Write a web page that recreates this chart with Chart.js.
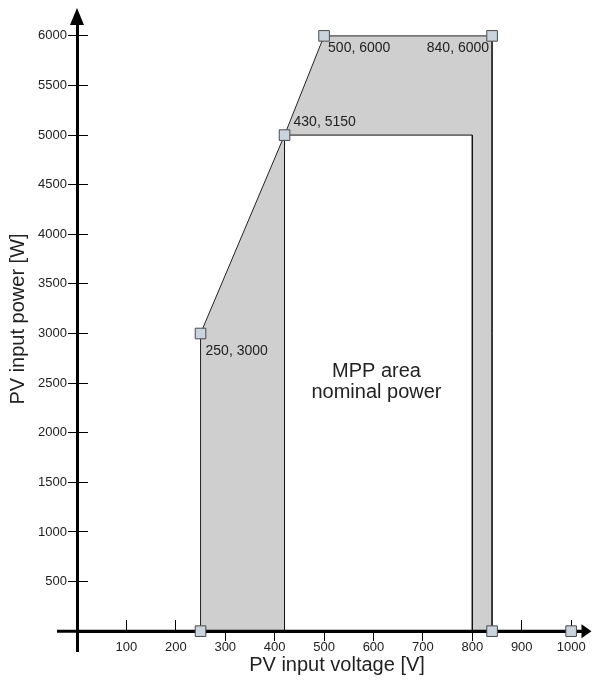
<!DOCTYPE html>
<html>
<head>
<meta charset="utf-8">
<script src="https://cdn.jsdelivr.net/npm/chart.js@4/dist/chart.umd.min.js"></script>
<style>
  html, body { margin: 0; padding: 0; background: #ffffff; }
  #wrap { position: relative; width: 592px; height: 680px; }
</style>
</head>
<body>
<div id="wrap"><canvas id="c" width="592" height="680"></canvas></div>
<script>
// ---- data ----
const xTickValues = [100, 200, 300, 400, 500, 600, 700, 800, 900, 1000];
const yTickValues = [500, 1000, 1500, 2000, 2500, 3000, 3500, 4000, 4500, 5000, 5500, 6000];
const xTicksBelow = [300, 400, 500, 600, 700, 800];

const outerAreaX = [250, 250, 420, 500, 840, 840];
const outerAreaY = [0, 3000, 5000, 6000, 6000, 0];
const innerAreaX = [420, 420, 800, 800];
const innerAreaY = [0, 5000, 5000, 0];
const markerX = [250, 250, 420, 500, 840, 840, 1000];
const markerY = [0, 3000, 5000, 6000, 6000, 0, 0];

const pointLabels = ['250, 3000', '430, 5150', '500, 6000', '840, 6000'];
const pointLabelX = [250, 420, 500, 840];
const pointLabelY = [3000, 5000, 6000, 6000];
const areaLabel = ['MPP area', 'nominal power'];
const areaLabelAt = { x: 606, y: 2560 };
const xTitle = 'PV input voltage [V]';
const yTitle = 'PV input power [W]';

const toXY = (xs, ys) => xs.map((x, i) => ({ x: x, y: ys[i] }));

// ---- styles ----
const FONT = '"Liberation Sans", Arial, Helvetica, sans-serif';
const TEXT = '#222222';
const labelOffsets = [[5, 18, 'left'], [9, -13, 'left'], [4, 12, 'left'], [-3, 12, 'right']];

const overlay = {
  id: 'overlay',
  afterDatasetDraw(chart, args) {
    if (args.index !== 1) return;
    const ctx = chart.ctx, xs = chart.scales.x, ys = chart.scales.y, a = chart.chartArea;
    const x0 = xs.getPixelForValue(0), y0 = ys.getPixelForValue(0);
    ctx.save();
    ctx.strokeStyle = '#000'; ctx.fillStyle = '#000'; ctx.lineWidth = 3;
    ctx.beginPath(); ctx.moveTo(x0 - 20, y0); ctx.lineTo(a.right, y0); ctx.stroke();
    ctx.beginPath(); ctx.moveTo(a.right + 8, y0); ctx.lineTo(a.right - 2, y0 - 7); ctx.lineTo(a.right - 2, y0 + 7); ctx.closePath(); ctx.fill();
    ctx.beginPath(); ctx.moveTo(x0, a.top - 13); ctx.lineTo(x0 - 7, a.top + 4); ctx.lineTo(x0 + 7, a.top + 4); ctx.closePath(); ctx.fill();
    ctx.restore();
  },
  afterDraw(chart) {
    const ctx = chart.ctx, xs = chart.scales.x, ys = chart.scales.y;
    ctx.save();
    ctx.fillStyle = TEXT;
    ctx.font = '14px ' + FONT;
    ctx.textBaseline = 'middle';
    pointLabels.forEach((t, i) => {
      const o = labelOffsets[i];
      ctx.textAlign = o[2];
      ctx.fillText(t, xs.getPixelForValue(pointLabelX[i]) + o[0], ys.getPixelForValue(pointLabelY[i]) + o[1]);
    });
    ctx.font = '20px ' + FONT;
    ctx.textAlign = 'center';
    ctx.textBaseline = 'alphabetic';
    const ax = xs.getPixelForValue(areaLabelAt.x), ay = ys.getPixelForValue(areaLabelAt.y);
    areaLabel.forEach((t, i) => ctx.fillText(t, ax, ay + i * 21));
    ctx.textBaseline = 'middle';
    ctx.fillText(xTitle, 337, 665);
    ctx.translate(18.5, 319);
    ctx.rotate(-Math.PI / 2);
    ctx.fillText(yTitle, 0, 0);
    ctx.restore();
  }
};

const setTicks = vals => s => { s.ticks = vals.map(v => ({ value: v })); };
const plain = v => String(v);

new Chart(document.getElementById('c'), {
  type: 'scatter',
  data: {
    datasets: [
      {
        label: 'points',
        data: toXY(markerX, markerY),
        showLine: false,
        pointStyle: 'rect',
        pointRadius: 7.5,
        pointHoverRadius: 7.5,
        pointBackgroundColor: '#c9d4df',
        pointBorderColor: '#4a4a4a',
        pointBorderWidth: 1
      },
      {
        label: 'nominal',
        data: toXY(innerAreaX, innerAreaY),
        showLine: true,
        tension: 0,
        fill: 'origin',
        backgroundColor: '#ffffff',
        borderColor: '#111111',
        borderWidth: 1,
        pointRadius: 0
      },
      {
        label: 'mpp',
        data: toXY(outerAreaX, outerAreaY),
        showLine: true,
        tension: 0,
        fill: 'origin',
        backgroundColor: '#cfcfcf',
        borderColor: '#222222',
        borderWidth: 1,
        pointRadius: 0
      }
    ]
  },
  options: {
    responsive: false,
    animation: false,
    events: [],
    layout: { padding: { left: 0, right: 8, top: 21, bottom: 29 } },
    plugins: { legend: { display: false }, tooltip: { enabled: false } },
    scales: {
      x: {
        type: 'linear', min: 0, max: 1025, position: { y: 0 },
        afterBuildTicks: setTicks(xTickValues),
        grid: {
          drawOnChartArea: false, drawTicks: true, tickLength: 8, lineWidth: 1,
          tickColor: c => (c.tick && xTicksBelow.includes(c.tick.value)) ? '#000' : 'rgba(0,0,0,0)'
        },
        border: { display: true, width: 3, color: '#000' },
        ticks: { padding: 0, color: TEXT, font: { family: FONT, size: 13 }, maxRotation: 0, autoSkip: false, callback: plain }
      },
      x2: {
        type: 'linear', min: 0, max: 1025, position: { y: 0 },
        afterBuildTicks: setTicks(xTickValues),
        grid: { drawOnChartArea: false, drawTicks: true, tickLength: -11, lineWidth: 1, tickColor: '#000' },
        border: { display: false },
        ticks: { display: false }
      },
      y: {
        type: 'linear', min: -200, max: 6150, position: 'left',
        afterBuildTicks: setTicks(yTickValues),
        afterFit: s => { s.width = 77; },
        grid: { drawOnChartArea: false, drawTicks: true, tickLength: 9, lineWidth: 1, tickColor: '#000' },
        border: { display: true, width: 3, color: '#000' },
        ticks: { padding: 1, color: TEXT, font: { family: FONT, size: 13 }, autoSkip: false, callback: plain }
      },
      y2: {
        type: 'linear', min: -200, max: 6150, position: { x: 0 },
        afterBuildTicks: setTicks(yTickValues),
        grid: { drawOnChartArea: false, drawTicks: true, tickLength: -11, lineWidth: 1, tickColor: '#000' },
        border: { display: false },
        ticks: { display: false }
      }
    }
  },
  plugins: [overlay]
});
</script>
</body>
</html>
